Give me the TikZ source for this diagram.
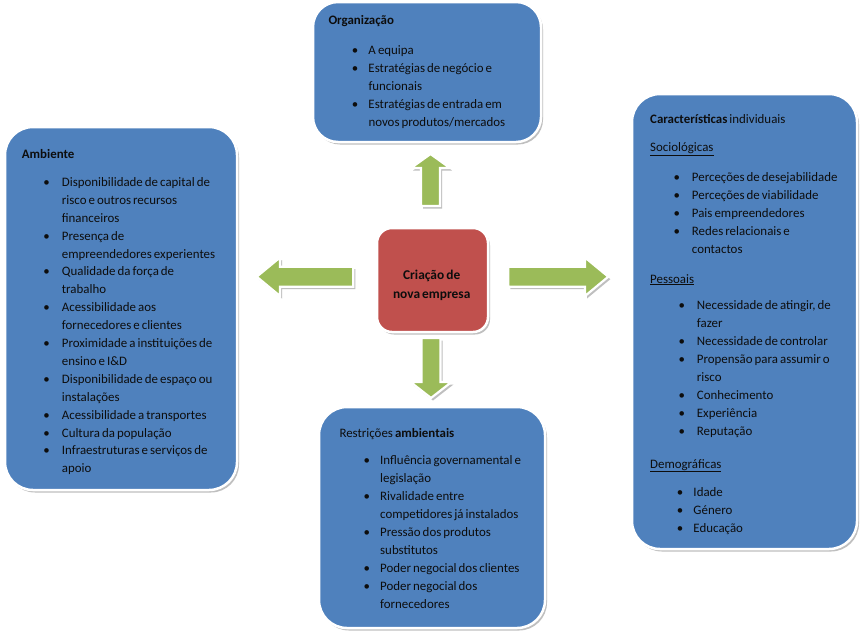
\documentclass[tikz,border=0pt]{standalone}
\usepackage{fontspec}
\setmainfont{Carlito}[WordSpace=0.7]
\usetikzlibrary{shadows}
\definecolor{boxblue}{HTML}{4F81BD}
\definecolor{boxred}{HTML}{C0504D}
\definecolor{arrgreen}{HTML}{9BBB59}
\definecolor{txt}{HTML}{0D0D0D}
\newcommand\bi[3]{\hspace*{#1pt}\makebox[\dimexpr#2pt-#1pt\relax][l]{\textbullet}#3}
\newcommand\ct[2]{\hspace*{#1pt}#2}
\newcommand\fst{\rule{0pt}{11pt}}
\tikzset{
  shad/.style={drop shadow={shadow xshift=2pt, shadow yshift=-2.5pt, fill=black!45, opacity=0.55}},
  bluebox/.style={rectangle, draw=white, line width=2.5pt, fill=boxblue, rounded corners=28pt, shad, inner sep=0pt},
  redbox/.style={rectangle, draw=white, line width=2.5pt, fill=boxred, rounded corners=15pt, shad, inner sep=0pt},
  arr/.style={fill=arrgreen, draw=white, line width=2.2pt, line join=miter, shad},
  txtn/.style={anchor=north west, align=left, inner sep=0pt, yshift=11pt, font=\fontsize{12.9}{17.9}\selectfont, text=txt},
}
\begin{document}
\begin{tikzpicture}[x=1pt, y=-1pt]
\useasboundingbox[fill=white] (0,0) rectangle (861,630);

% boxes
\node[bluebox, minimum width=232pt, minimum height=363pt] (amb) at (121,308.5) {};
\node[bluebox, minimum width=228pt, minimum height=140pt, rounded corners=25pt] (org) at (427,72) {};
\node[bluebox, minimum width=225pt, minimum height=455pt] (car) at (744.5,321.5) {};
\node[bluebox, minimum width=226pt, minimum height=221pt] (res) at (432,517.5) {};
\node[redbox, minimum width=111pt, minimum height=104pt] (cen) at (432.5,280) {};
\node[align=center, inner sep=0pt, text=txt, font=\fontsize{13.4}{19}\selectfont\bfseries] (cent) at (431.7,285) {Criação de\\nova empresa};

% arrows
\draw[arr] (421,206) -- (421,168) -- (411,168) -- (430.5,154) -- (450,168) -- (440,168) -- (440,206) -- cycle;
\draw[arr] (421.5,338) -- (421.5,382) -- (410.5,382) -- (431,398) -- (451.5,382) -- (440.5,382) -- (440.5,338) -- cycle;
\draw[arr] (353.3,266.7) -- (280,266.7) -- (280,257.5) -- (256.7,276.7) -- (280,296) -- (280,286.7) -- (353.3,286.7) -- cycle;
\draw[arr] (508.3,266.7) -- (585,266.7) -- (585,257.5) -- (608.3,276.7) -- (585,296) -- (585,286.7) -- (508.3,286.7) -- cycle;

% texts
\node[txtn] (tamb) at (21.7,157.8) {\fst\textbf{Ambiente}\\[10.5pt]
\bi{21.6}{40}{Disponibilidade de capital de}\\
\ct{40}{risco e outros recursos}\\
\ct{40}{financeiros}\\
\bi{21.6}{40}{Presença de}\\
\ct{40}{empreendedores experientes}\\
\bi{21.6}{40}{Qualidade da força de}\\
\ct{40}{trabalho}\\
\bi{21.6}{40}{Acessibilidade aos}\\
\ct{40}{fornecedores e clientes}\\
\bi{21.6}{40}{Proximidade a instituições de}\\
\ct{40}{ensino e I\&D}\\
\bi{21.6}{40}{Disponibilidade de espaço ou}\\
\ct{40}{instalações}\\
\bi{21.6}{40}{Acessibilidade a transportes}\\
\bi{21.6}{40}{Cultura da população}\\
\bi{21.6}{40}{Infraestruturas e serviços de}\\
\ct{40}{apoio}};

\node[txtn] (torg) at (328.3,24.5) {\fst\textbf{Organização}\\[12.1pt]
\bi{23.4}{40}{A equipa}\\
\bi{23.4}{40}{Estratégias de negócio e}\\
\ct{40}{funcionais}\\
\bi{23.4}{40}{Estratégias de entrada em}\\
\ct{40}{novos produtos/mercados}};

\node[txtn] (tcar) at (650,122.8) {\fst\textbf{Características} individuais\\[10.5pt]
\underline{Sociológicas}\\[12.1pt]
\bi{23.3}{41.7}{Perceções de desejabilidade}\\
\bi{23.3}{41.7}{Perceções de viabilidade}\\
\bi{23.3}{41.7}{Pais empreendedores}\\
\bi{23.3}{41.7}{Redes relacionais e}\\
\ct{41.7}{contactos}\\[12.1pt]
\underline{Pessoais}\\[8.8pt]
\bi{28.3}{46.7}{Necessidade de atingir, de}\\
\ct{46.7}{fazer}\\
\bi{28.3}{46.7}{Necessidade de controlar}\\
\bi{28.3}{46.7}{Propensão para assumir o}\\
\ct{46.7}{risco}\\
\bi{28.3}{46.7}{Conhecimento}\\
\bi{28.3}{46.7}{Experiência}\\
\bi{28.3}{46.7}{Reputação}\\[15.1pt]
\underline{Demográficas}\\[10.5pt]
\bi{26.7}{43.3}{Idade}\\
\bi{26.7}{43.3}{Género}\\
\bi{26.7}{43.3}{Educação}};

\node[txtn] (tres) at (339.3,436.8) {\fst Restrições \textbf{ambientais}\\[10pt]
\bi{24}{40.7}{Influência governamental e}\\
\ct{40.7}{legislação}\\
\bi{24}{40.7}{Rivalidade entre}\\
\ct{40.7}{competidores já instalados}\\
\bi{24}{40.7}{Pressão dos produtos}\\
\ct{40.7}{substitutos}\\
\bi{24}{40.7}{Poder negocial dos clientes}\\
\bi{24}{40.7}{Poder negocial dos}\\
\ct{40.7}{fornecedores}};
\end{tikzpicture}
\end{document}
